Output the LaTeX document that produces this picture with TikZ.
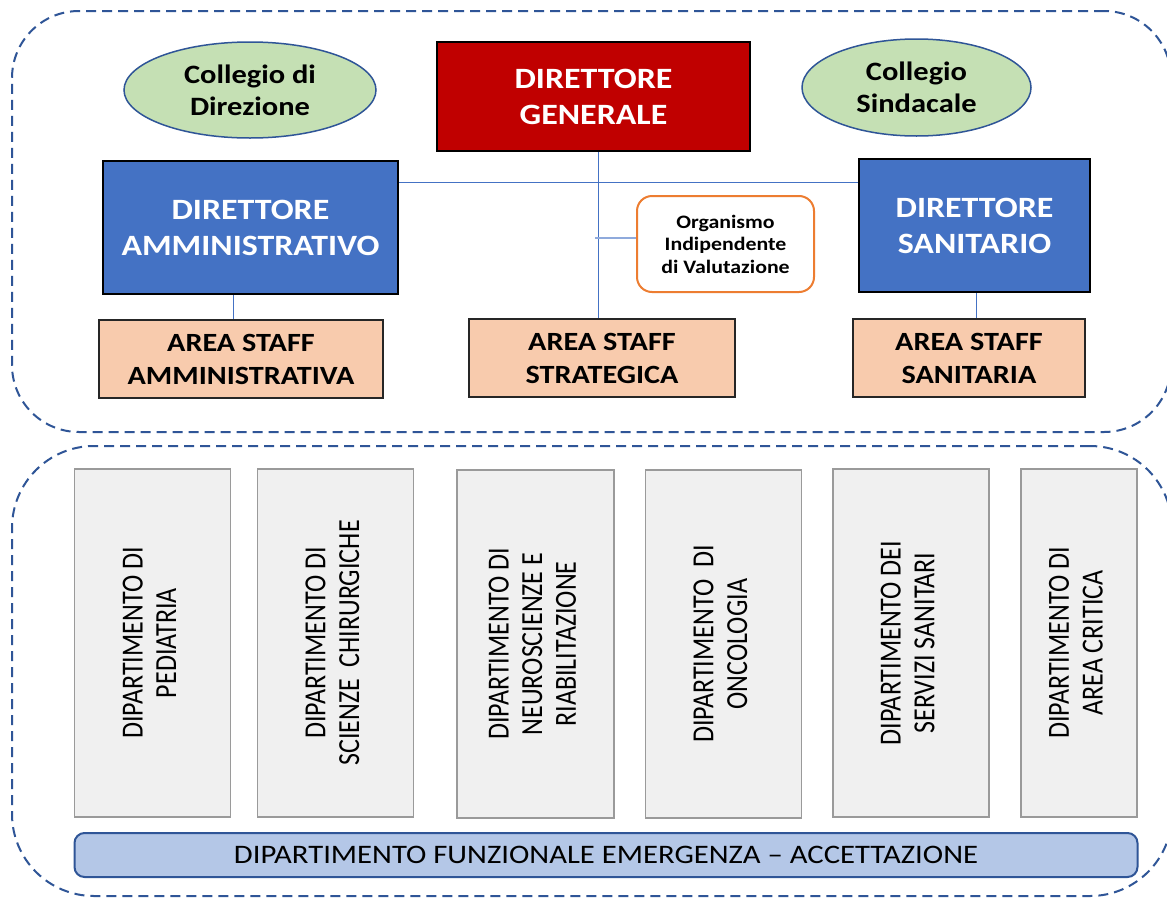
\documentclass[tikz,border=0pt]{standalone}
\usepackage{fontspec}
\setmainfont[FakeStretch=1.15]{Carlito}
\newfontfamily\vfont{Carlito}
\usetikzlibrary{shapes.geometric}
\definecolor{dgred}{HTML}{C00000}
\definecolor{dirblue}{HTML}{4472C4}
\definecolor{staffpeach}{HTML}{F8CBAD}
\definecolor{collgreen}{HTML}{C5E0B4}
\definecolor{darkblue}{HTML}{2F5597}
\definecolor{oivorange}{HTML}{ED7D31}
\definecolor{deptfill}{HTML}{F0F0F0}
\definecolor{deptgray}{HTML}{9A9A9A}
\definecolor{barfill}{HTML}{B4C7E7}
\definecolor{connblue}{HTML}{4472C4}
\definecolor{oivconn}{HTML}{8FAADC}
\newcommand{\vtext}[1]{\scalebox{1}[1.18]{\begin{tabular}{@{}c@{}}#1\end{tabular}}}
\begin{document}
\begin{tikzpicture}[x=1pt,y=-1pt,
  grp/.style={draw=darkblue, line width=2pt, dash pattern=on 10pt off 6pt, fill=none, inner sep=0pt},
  boss/.style={draw=black, line width=2.5pt, fill=dgred, text=white, font=\bfseries\fontsize{29.5}{36}\selectfont, align=center, inner sep=0pt},
  dirbox/.style={boss, fill=dirblue},
  staff/.style={draw=black!85, line width=2pt, fill=staffpeach, text=black, font=\bfseries\fontsize{26.3}{33}\selectfont, align=center, inner sep=0pt, minimum height=78pt},
  coll/.style={ellipse, draw=darkblue, line width=1.5pt, fill=collgreen, text=black, font=\bfseries\fontsize{26.5}{31.7}\selectfont, align=center, inner sep=0pt},
  oivbox/.style={rounded corners=15pt, draw=oivorange, line width=2pt, fill=white, text=black, font=\bfseries\fontsize{19}{22.6}\selectfont, align=center, inner sep=0pt},
  dept/.style={draw=deptgray, line width=1.5pt, fill=deptfill, rotate=90, minimum width=348pt, inner sep=0pt, font=\vfont\fontsize{26}{28.5}\selectfont},
  bar/.style={draw=darkblue, line width=2pt, fill=barfill, rounded corners=10pt, minimum width=1063pt, minimum height=44pt, inner sep=0pt, font=\fontsize{26.7}{30}\selectfont},
  conn/.style={draw=connblue, line width=1pt},
  oivline/.style={draw=oivconn, line width=2pt}
]
\useasboundingbox (0,0) rectangle (1167,897);
\fill[white] (0,0) rectangle (1167,897);

% group frames
\node[grp, rounded corners=67pt, minimum width=1159pt, minimum height=421pt] (topgrp) at (591.5,221.5) {};
\node[grp, rounded corners=82pt, minimum width=1160pt, minimum height=450pt] (botgrp) at (592,671) {};

% top nodes
\node[coll, minimum width=252pt, minimum height=96pt] (CD) at (250,90) {Collegio di\\Direzione};
\node[coll, minimum width=229pt, minimum height=97pt] (CS) at (916.5,87.5) {Collegio\\Sindacale};
\node[boss, minimum width=313pt, minimum height=109pt] (DG) at (593.5,96.5) {DIRETTORE\\GENERALE};
\node[dirbox, minimum width=295pt, minimum height=133pt] (DA) at (250.5,227.5) {DIRETTORE\\AMMINISTRATIVO};
\node[dirbox, minimum width=231pt, minimum height=133pt] (DS) at (974.5,225.5) {DIRETTORE\\SANITARIO};
\node[oivbox, minimum width=177pt, minimum height=96pt] (OIV) at (725.5,244) {Organismo\\Indipendente\\di Valutazione};
\node[staff, minimum width=284pt] (ASA) at (241,359) {AREA STAFF\\AMMINISTRATIVA};
\node[staff, minimum width=266pt] (ASG) at (602,358) {AREA STAFF\\STRATEGICA};
\node[staff, minimum width=232pt] (ASS) at (969,358) {AREA STAFF\\SANITARIA};

% connectors
\coordinate (spine) at (598,182);
\draw[conn] (spine |- DG.south) -- (spine |- ASG.north);
\draw[conn] (DA.east |- spine) -- (DS.west |- spine);
\coordinate (oivc) at (595,238);
\draw[oivline] (oivc) -- (oivc -| OIV.west);
\coordinate (ca) at (233,300);
\draw[conn] (ca |- DA.south) -- (ca |- ASA.north);
\coordinate (cs) at (976,300);
\draw[conn] (cs |- DS.south) -- (cs |- ASS.north);

% departments
\node[dept, minimum height=156pt] (PED) at (152.7,643) {\vtext{DIPARTIMENTO DI\\PEDIATRIA}};
\node[dept, minimum height=156pt] (CHI) at (335.5,643) {\vtext{DIPARTIMENTO DI\\SCIENZE\ \ CHIRURGICHE}};
\node[dept, minimum height=157pt] (NEU) at (535.5,644) {\vtext{DIPARTIMENTO DI\\NEUROSCIENZE E\\RIABILITAZIONE}};
\node[dept, minimum height=156pt] (ONC) at (723.5,644) {\vtext{DIPARTIMENTO\ \ DI\\ONCOLOGIA}};
\node[dept, minimum height=156pt] (SER) at (910.8,643) {\vtext{DIPARTIMENTO DEI\\SERVIZI SANITARI}};
\node[dept, minimum height=116pt] (CRI) at (1079,643) {\vtext{DIPARTIMENTO DI\\AREA CRITICA}};

\node[bar] (DFE) at (606,855) {DIPARTIMENTO FUNZIONALE EMERGENZA -- ACCETTAZIONE};
\end{tikzpicture}
\end{document}
